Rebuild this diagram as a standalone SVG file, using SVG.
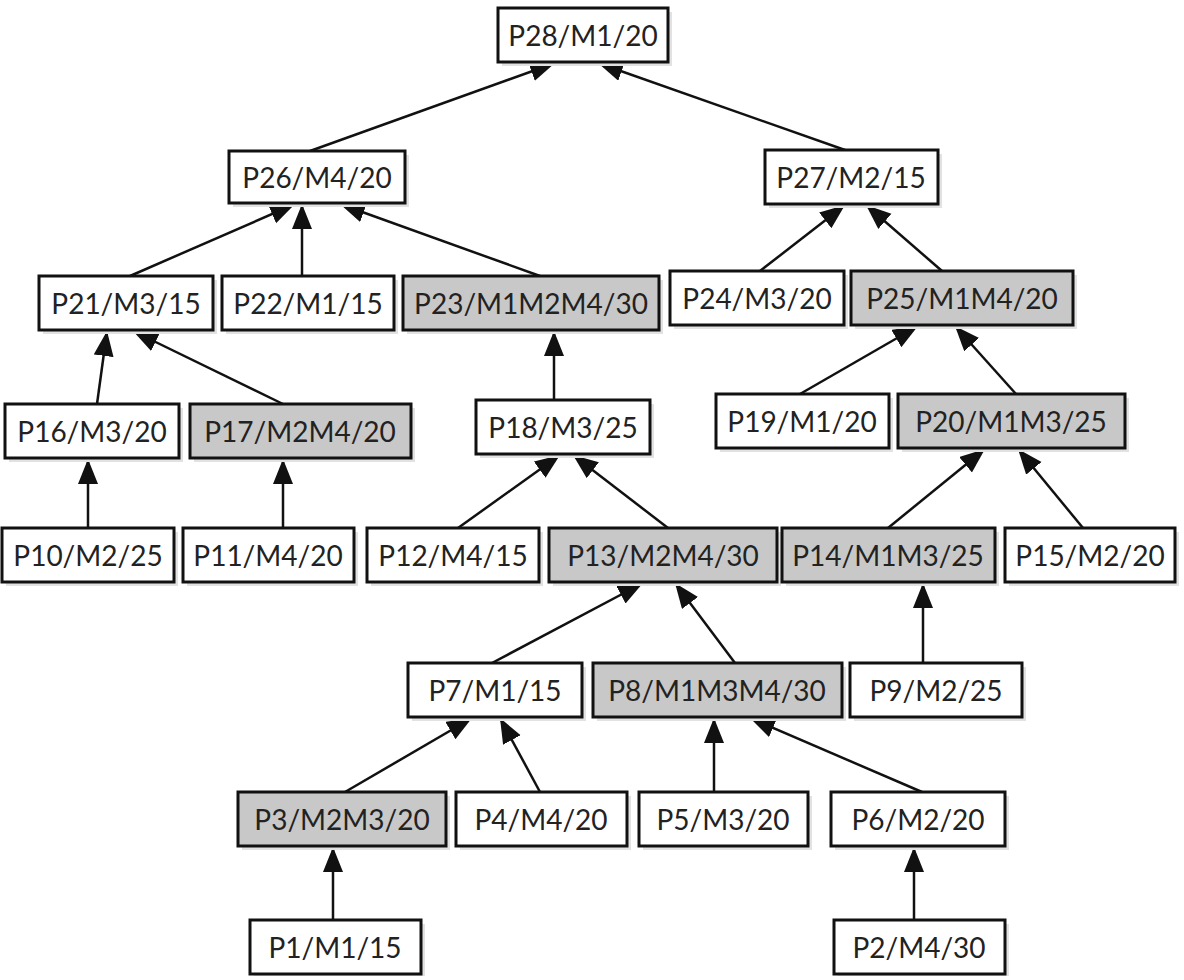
<svg xmlns="http://www.w3.org/2000/svg" width="1184" height="980" viewBox="0 0 1184 980">
<defs>
<marker id="ah" markerUnits="userSpaceOnUse" markerWidth="28" markerHeight="22" refX="25" refY="10" orient="auto">
<path d="M0,0 L25,10 L0,20 z" fill="#111"/>
</marker>
<style>
.sh{fill:#e2e2e2;stroke:none}
.b{fill:#fff;stroke:#111;stroke-width:3}
.g{fill:#c8c8c8;stroke:#111;stroke-width:3}
.t{font-family:Lato,"Open Sans",sans-serif;font-size:28px;fill:#222;text-anchor:middle;dominant-baseline:central}
.c{stroke:#111;stroke-width:2.5;fill:none;marker-end:url(#ah)}
</style>
</defs>
<rect width="1184" height="980" fill="#fff"/>
<g id="connectors">
<line class="c" x1="310" y1="151" x2="555" y2="63"/>
<line class="c" x1="845" y1="150" x2="598" y2="63"/>
<line class="c" x1="130" y1="276" x2="295" y2="204"/>
<line class="c" x1="302" y1="276" x2="302" y2="204"/>
<line class="c" x1="540" y1="276" x2="340" y2="204"/>
<line class="c" x1="760" y1="271" x2="845" y2="205"/>
<line class="c" x1="942" y1="271" x2="866" y2="205"/>
<line class="c" x1="97" y1="404" x2="107" y2="331"/>
<line class="c" x1="283" y1="404" x2="133" y2="331"/>
<line class="c" x1="554" y1="400" x2="554" y2="331"/>
<line class="c" x1="800" y1="394" x2="918" y2="326"/>
<line class="c" x1="1016" y1="394" x2="955" y2="326"/>
<line class="c" x1="88" y1="528" x2="88" y2="459"/>
<line class="c" x1="283" y1="528" x2="283" y2="459"/>
<line class="c" x1="458" y1="528" x2="560" y2="455"/>
<line class="c" x1="668" y1="528" x2="573" y2="455"/>
<line class="c" x1="888" y1="528" x2="985" y2="449"/>
<line class="c" x1="1083" y1="528" x2="1018" y2="449"/>
<line class="c" x1="492" y1="663" x2="643" y2="583"/>
<line class="c" x1="735" y1="663" x2="675" y2="583"/>
<line class="c" x1="923" y1="663" x2="923" y2="583"/>
<line class="c" x1="345" y1="792" x2="472" y2="718"/>
<line class="c" x1="540" y1="792" x2="500" y2="718"/>
<line class="c" x1="714" y1="792" x2="714" y2="718"/>
<line class="c" x1="922" y1="792" x2="750" y2="718"/>
<line class="c" x1="333" y1="920" x2="333" y2="847"/>
<line class="c" x1="914" y1="920" x2="914" y2="847"/>
</g>
<g id="P28"><rect class="sh" x="502" y="12" width="170" height="54"/><rect class="b" x="498" y="8" width="170" height="54"/><text class="t" x="583" y="35">P28/M1/20</text></g>
<g id="P26"><rect class="sh" x="233" y="155" width="176" height="52"/><rect class="b" x="229" y="151" width="176" height="52"/><text class="t" x="317" y="177">P26/M4/20</text></g>
<g id="P27"><rect class="sh" x="769" y="154" width="173" height="54"/><rect class="b" x="765" y="150" width="173" height="54"/><text class="t" x="851" y="177">P27/M2/15</text></g>
<g id="P21"><rect class="sh" x="43" y="280" width="174" height="54"/><rect class="b" x="39" y="276" width="174" height="54"/><text class="t" x="126" y="303">P21/M3/15</text></g>
<g id="P22"><rect class="sh" x="226" y="280" width="172" height="54"/><rect class="b" x="222" y="276" width="172" height="54"/><text class="t" x="308" y="303">P22/M1/15</text></g>
<g id="P23"><rect class="sh" x="407" y="280" width="256" height="54"/><rect class="g" x="403" y="276" width="256" height="54"/><text class="t" x="531" y="303">P23/M1M2M4/30</text></g>
<g id="P24"><rect class="sh" x="674" y="275" width="174" height="54"/><rect class="b" x="670" y="271" width="174" height="54"/><text class="t" x="757" y="298">P24/M3/20</text></g>
<g id="P25"><rect class="sh" x="855" y="275" width="222" height="54"/><rect class="g" x="851" y="271" width="222" height="54"/><text class="t" x="962" y="298">P25/M1M4/20</text></g>
<g id="P16"><rect class="sh" x="9" y="408" width="174" height="54"/><rect class="b" x="5" y="404" width="174" height="54"/><text class="t" x="92" y="431">P16/M3/20</text></g>
<g id="P17"><rect class="sh" x="194" y="408" width="221" height="54"/><rect class="g" x="190" y="404" width="221" height="54"/><text class="t" x="300" y="431">P17/M2M4/20</text></g>
<g id="P18"><rect class="sh" x="480" y="404" width="174" height="54"/><rect class="b" x="476" y="400" width="174" height="54"/><text class="t" x="563" y="427">P18/M3/25</text></g>
<g id="P19"><rect class="sh" x="720" y="398" width="173" height="54"/><rect class="b" x="716" y="394" width="173" height="54"/><text class="t" x="802" y="421">P19/M1/20</text></g>
<g id="P20"><rect class="sh" x="902" y="398" width="227" height="54"/><rect class="g" x="898" y="394" width="227" height="54"/><text class="t" x="1011" y="421">P20/M1M3/25</text></g>
<g id="P10"><rect class="sh" x="6" y="532" width="172" height="54"/><rect class="b" x="2" y="528" width="172" height="54"/><text class="t" x="88" y="555">P10/M2/25</text></g>
<g id="P11"><rect class="sh" x="187" y="532" width="171" height="54"/><rect class="b" x="183" y="528" width="171" height="54"/><text class="t" x="268" y="555">P11/M4/20</text></g>
<g id="P12"><rect class="sh" x="371" y="532" width="172" height="54"/><rect class="b" x="367" y="528" width="172" height="54"/><text class="t" x="453" y="555">P12/M4/15</text></g>
<g id="P13"><rect class="sh" x="553" y="532" width="228" height="54"/><rect class="g" x="549" y="528" width="228" height="54"/><text class="t" x="663" y="555">P13/M2M4/30</text></g>
<g id="P14"><rect class="sh" x="786" y="532" width="213" height="54"/><rect class="g" x="782" y="528" width="213" height="54"/><text class="t" x="888" y="555">P14/M1M3/25</text></g>
<g id="P15"><rect class="sh" x="1009" y="532" width="170" height="54"/><rect class="b" x="1005" y="528" width="170" height="54"/><text class="t" x="1090" y="555">P15/M2/20</text></g>
<g id="P7"><rect class="sh" x="412" y="667" width="174" height="54"/><rect class="b" x="408" y="663" width="174" height="54"/><text class="t" x="495" y="690">P7/M1/15</text></g>
<g id="P8"><rect class="sh" x="597" y="667" width="249" height="54"/><rect class="g" x="593" y="663" width="249" height="54"/><text class="t" x="717" y="690">P8/M1M3M4/30</text></g>
<g id="P9"><rect class="sh" x="854" y="667" width="172" height="54"/><rect class="b" x="850" y="663" width="172" height="54"/><text class="t" x="936" y="690">P9/M2/25</text></g>
<g id="P3"><rect class="sh" x="242" y="796" width="208" height="54"/><rect class="g" x="238" y="792" width="208" height="54"/><text class="t" x="342" y="819">P3/M2M3/20</text></g>
<g id="P4"><rect class="sh" x="460" y="796" width="171" height="54"/><rect class="b" x="456" y="792" width="171" height="54"/><text class="t" x="541" y="819">P4/M4/20</text></g>
<g id="P5"><rect class="sh" x="643" y="796" width="169" height="54"/><rect class="b" x="639" y="792" width="169" height="54"/><text class="t" x="723" y="819">P5/M3/20</text></g>
<g id="P6"><rect class="sh" x="835" y="796" width="174" height="54"/><rect class="b" x="831" y="792" width="174" height="54"/><text class="t" x="918" y="819">P6/M2/20</text></g>
<g id="P1"><rect class="sh" x="254" y="924" width="171" height="52"/><rect class="b" x="250" y="920" width="171" height="54"/><text class="t" x="335" y="947">P1/M1/15</text></g>
<g id="P2"><rect class="sh" x="838" y="924" width="171" height="52"/><rect class="b" x="834" y="920" width="171" height="54"/><text class="t" x="919" y="947">P2/M4/30</text></g>
</svg>
